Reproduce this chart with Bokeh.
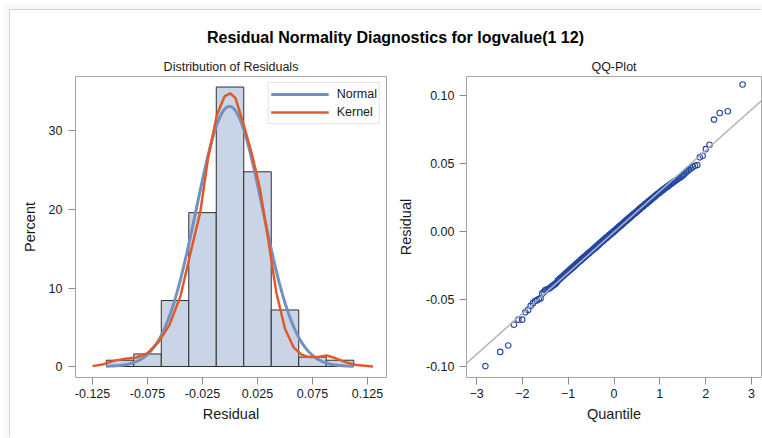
import math
from statistics import NormalDist
from bokeh.plotting import figure
from bokeh.layouts import column, row
from bokeh.models import (Range1d, FixedTicker, NumeralTickFormatter, Legend,
                          LegendItem, Label, Slope)
from bokeh.embed import file_html
from bokeh.resources import INLINE

# ---------------- data ----------------
TITLE = "Residual Normality Diagnostics for logvalue(1 12)"
LEFT_TITLE = "Distribution of Residuals"
RIGHT_TITLE = "QQ-Plot"

BIN_CENTERS = [-0.100, -0.075, -0.050, -0.025, 0.000, 0.025, 0.050, 0.075, 0.100]
BIN_WIDTH = 0.025
BIN_PERCENT = [0.8, 1.6, 8.4, 19.6, 35.6, 24.8, 7.2, 1.2, 0.8]

NORMAL_MEAN = -0.0005
NORMAL_SD = 0.0301
NORMAL_FROM = -0.1125
NORMAL_TO = 0.1125

KERNEL_X = [-0.125, -0.115, -0.105, -0.095, -0.085, -0.075, -0.065, -0.055,
            -0.045, -0.035, -0.027, -0.020, -0.012, -0.005, 0.000, 0.005,
            0.012, 0.020, 0.027, 0.035, 0.042, 0.050, 0.058, 0.065, 0.072,
            0.080, 0.088, 0.095, 0.105, 0.115, 0.130]
KERNEL_PCT = [0.05, 0.3, 0.75, 1.0, 1.15, 1.7, 3.1, 5.3,
              9.0, 15.0, 19.7, 26.5, 32.0, 34.4, 34.8, 34.2,
              31.0, 27.0, 22.8, 16.0, 9.5, 4.8, 2.4, 1.5, 1.2,
              1.2, 1.4, 1.1, 0.55, 0.2, 0.0]

# sorted residuals (x 0.001)
RESIDUALS_MILLI = [
    -99.5, -89.0,
    -84.3, -68.9, -65.2, -65.2,
    -59.8, -58.0, -55.0, -53.0, -51.5, -50.8, -50.0, -49.5, -46.0, -44.8,
    -43.5, -43.0, -42.6, -42.2, -41.6, -40.8, -40.2, -39.6, -39.0, -38.4, -37.8,
    -36.4, -35.8, -35.1, -34.5, -33.9, -33.3, -32.8, -32.2,
    -31.7, -31.1, -30.6, -30.1, -29.6,
    -29.1, -28.7, -28.2, -27.7, -27.25,
    -26.8, -26.4, -25.9, -25.5, -25.0,
    -24.6, -24.2, -23.7, -23.3, -22.9,
    -22.5, -22.1, -21.7, -21.3, -20.9,
    -20.5, -20.1, -19.8, -19.4, -19.0,
    -18.6, -18.3, -17.9, -17.6, -17.2,
    -16.9, -16.5, -16.2, -15.8, -15.5, -15.1,
    -14.9, -14.6, -14.3, -13.9,
    -13.6, -13.3, -13.0, -12.6, -12.3, -12.0, -11.7, -11.3, -11.0, -10.6,
    -10.3, -10.0, -9.7, -9.4, -9.0, -8.7, -8.4, -8.1, -7.8, -7.5,
    -7.2, -6.9, -6.6, -6.3, -6.0, -5.7, -5.4, -5.1, -4.8, -4.5,
    -4.2, -3.9, -3.6, -3.3, -3.0, -2.8, -2.5, -2.2, -1.9, -1.6,
    -1.3, -1.0, -0.7, -0.45, -0.15, 0.15, 0.45, 0.7, 1.0, 1.3,
    1.6, 1.9, 2.2, 2.5, 2.8, 3.1, 3.4, 3.7, 4.0, 4.3,
    4.6, 4.9, 5.2, 5.5, 5.8, 6.1, 6.4, 6.7, 7.0, 7.3,
    7.6, 7.9, 8.2, 8.5, 8.8, 9.2, 9.5, 9.8, 10.1, 10.4,
    10.7, 11.0, 11.3, 11.7, 12.0,
    12.3, 12.6, 12.9, 13.2, 13.5,
    13.8, 14.2, 14.5, 14.8, 15.2, 15.5, 15.9, 16.2, 16.6, 16.9,
    17.2, 17.6, 17.9, 18.3, 18.6, 19.0, 19.3, 19.6, 20.0, 20.3,
    20.7, 21.1, 21.5, 21.9, 22.3, 22.6, 23.0, 23.4, 23.8, 24.2,
    24.6, 25.0, 25.4, 25.8, 26.3, 26.7, 27.1, 27.5, 27.9, 28.3,
    28.8, 29.2, 29.7, 30.2, 30.6, 31.1, 31.6, 32.1, 32.5, 33.0,
    33.5, 34.0, 34.6, 35.1, 35.7, 36.2, 36.8,
    37.3, 37.9, 38.5, 39.1, 39.7, 40.5, 41.3, 42.3, 43.5, 44.5,
    45.4, 46.4, 47.5, 48.4, 49.0, 54.6, 55.8, 60.7,
    63.9, 82.5, 87.4,
    88.7, 108.4,
]

HIST_X_TICKS = [-0.125, -0.075, -0.025, 0.025, 0.075, 0.125]
HIST_Y_TICKS = [0, 10, 20, 30]
QQ_X_TICKS = [-3, -2, -1, 0, 1, 2, 3]
QQ_Y_TICKS = [-0.10, -0.05, 0.00, 0.05, 0.10]

# ---------------- derived ----------------
residuals = [v / 1000.0 for v in RESIDUALS_MILLI]
n = len(residuals)
nd = NormalDist()
quantiles = [nd.inv_cdf((i + 1 - 0.375) / (n + 0.25)) for i in range(n)]

fit = NormalDist(NORMAL_MEAN, NORMAL_SD)
steps = 200
normal_x = [NORMAL_FROM + (NORMAL_TO - NORMAL_FROM) * k / steps for k in range(steps + 1)]
normal_pct = [fit.pdf(x) * BIN_WIDTH * 100 for x in normal_x]

FONT = "Liberation Sans"
TEXT = "#1a1a1a"
FRAME = "#a6a6a6"


def style_axes(p):
    p.grid.visible = False
    p.outline_line_color = FRAME
    p.outline_line_width = 1
    p.background_fill_color = "white"
    p.border_fill_color = "white"
    for ax in p.axis:
        ax.axis_line_color = None
        ax.major_tick_out = 7
        ax.major_tick_in = 0
        ax.minor_tick_line_color = None
        ax.major_tick_line_color = "#8c8c8c"
        ax.major_label_text_font = FONT
        ax.major_label_text_font_size = "12.5px"
        ax.major_label_text_color = TEXT
        ax.axis_label_text_font = FONT
        ax.axis_label_text_font_size = "14.5px"
        ax.axis_label_text_font_style = "normal"
        ax.axis_label_text_color = TEXT
    p.title.align = "center"
    p.title.text_font = FONT
    p.title.text_font_size = "12.5px"
    p.title.text_font_style = "normal"
    p.title.text_color = TEXT
    p.title.standoff = 6


# ---------------- title strip ----------------
tf = figure(width=752, height=40, x_range=Range1d(0, 752), y_range=Range1d(0, 40),
            min_border=0, toolbar_location=None, output_backend="svg",
            x_axis_location=None, y_axis_location=None)
tf.grid.visible = False
tf.outline_line_color = None
tf.border_fill_color = "white"
tf.background_fill_color = "white"
tf.add_layout(Label(x=385, y=12.7, text=TITLE, text_align="center",
                    text_baseline="alphabetic", text_font=FONT,
                    text_font_style="bold", text_font_size="16px",
                    text_color="black"))

# ---------------- histogram ----------------
p1 = figure(width=382, height=388, x_range=Range1d(-0.1405, 0.1423),
            y_range=Range1d(-1.40, 36.94), min_border_left=65, min_border_right=6,
            min_border_top=26, min_border_bottom=61, toolbar_location=None,
            output_backend="svg", title=LEFT_TITLE,
            x_axis_label="Residual", y_axis_label="Percent")
style_axes(p1)
p1.vbar(x=BIN_CENTERS, width=BIN_WIDTH, top=BIN_PERCENT, bottom=0,
        fill_color="#c9d5e6", line_color="#2e2e2e", line_width=1)
r_norm = p1.line(normal_x, normal_pct, line_color="#7391bf", line_width=3)
r_kern = p1.line(KERNEL_X, KERNEL_PCT, line_color="#e0592a", line_width=2.5)
p1.xaxis.ticker = FixedTicker(ticks=HIST_X_TICKS)
p1.xaxis.formatter = NumeralTickFormatter(format="0.000")
p1.yaxis.ticker = FixedTicker(ticks=HIST_Y_TICKS)
p1.xaxis.major_label_standoff = 4
p1.xaxis.axis_label_standoff = 5
p1.yaxis.major_label_standoff = 6
p1.yaxis.axis_label_standoff = 8

legend = Legend(items=[LegendItem(label="Normal", renderers=[r_norm]),
                       LegendItem(label="Kernel", renderers=[r_kern])],
                location="top_right", orientation="vertical")
legend.label_text_font = FONT
legend.label_text_font_size = "12.5px"
legend.label_text_color = TEXT
legend.glyph_width = 58
legend.glyph_height = 18
legend.label_height = 18
legend.label_standoff = 8
legend.padding = 2
legend.spacing = 0
legend.margin = 6
legend.border_line_color = "#c8c8c8"
legend.background_fill_color = "white"
legend.background_fill_alpha = 1
p1.add_layout(legend)

# ---------------- QQ plot ----------------
p2 = figure(width=370, height=388, x_range=Range1d(-3.22, 3.22),
            y_range=Range1d(-0.1079, 0.1143), min_border_left=74, min_border_right=1,
            min_border_top=26, min_border_bottom=61, toolbar_location=None,
            output_backend="svg", title=RIGHT_TITLE,
            x_axis_label="Quantile", y_axis_label="Residual")
style_axes(p2)
p2.add_layout(Slope(gradient=NORMAL_SD, y_intercept=NORMAL_MEAN,
                    line_color="#b4b4b4", line_width=1.5))
p2.scatter(quantiles, residuals, marker="circle", size=5.5, fill_color=None,
           line_color="#2347a6", line_width=1.1)
p2.xaxis.ticker = FixedTicker(ticks=QQ_X_TICKS)
p2.yaxis.ticker = FixedTicker(ticks=QQ_Y_TICKS)
p2.yaxis.formatter = NumeralTickFormatter(format="0.00")
p2.xaxis.major_label_standoff = 4
p2.xaxis.axis_label_standoff = 5
p2.yaxis.major_label_standoff = 5
p2.yaxis.axis_label_standoff = 9

layout = column(tf, row(p1, p2, spacing=0), spacing=0,
                margin=(10, 0, 0, 10),
                styles={"box-shadow": "-1px -1px 0 0 #d2d2d2, -3px -3px 0 3px #f7f8fc"})
open("out.html", "w").write(file_html(layout, INLINE))
